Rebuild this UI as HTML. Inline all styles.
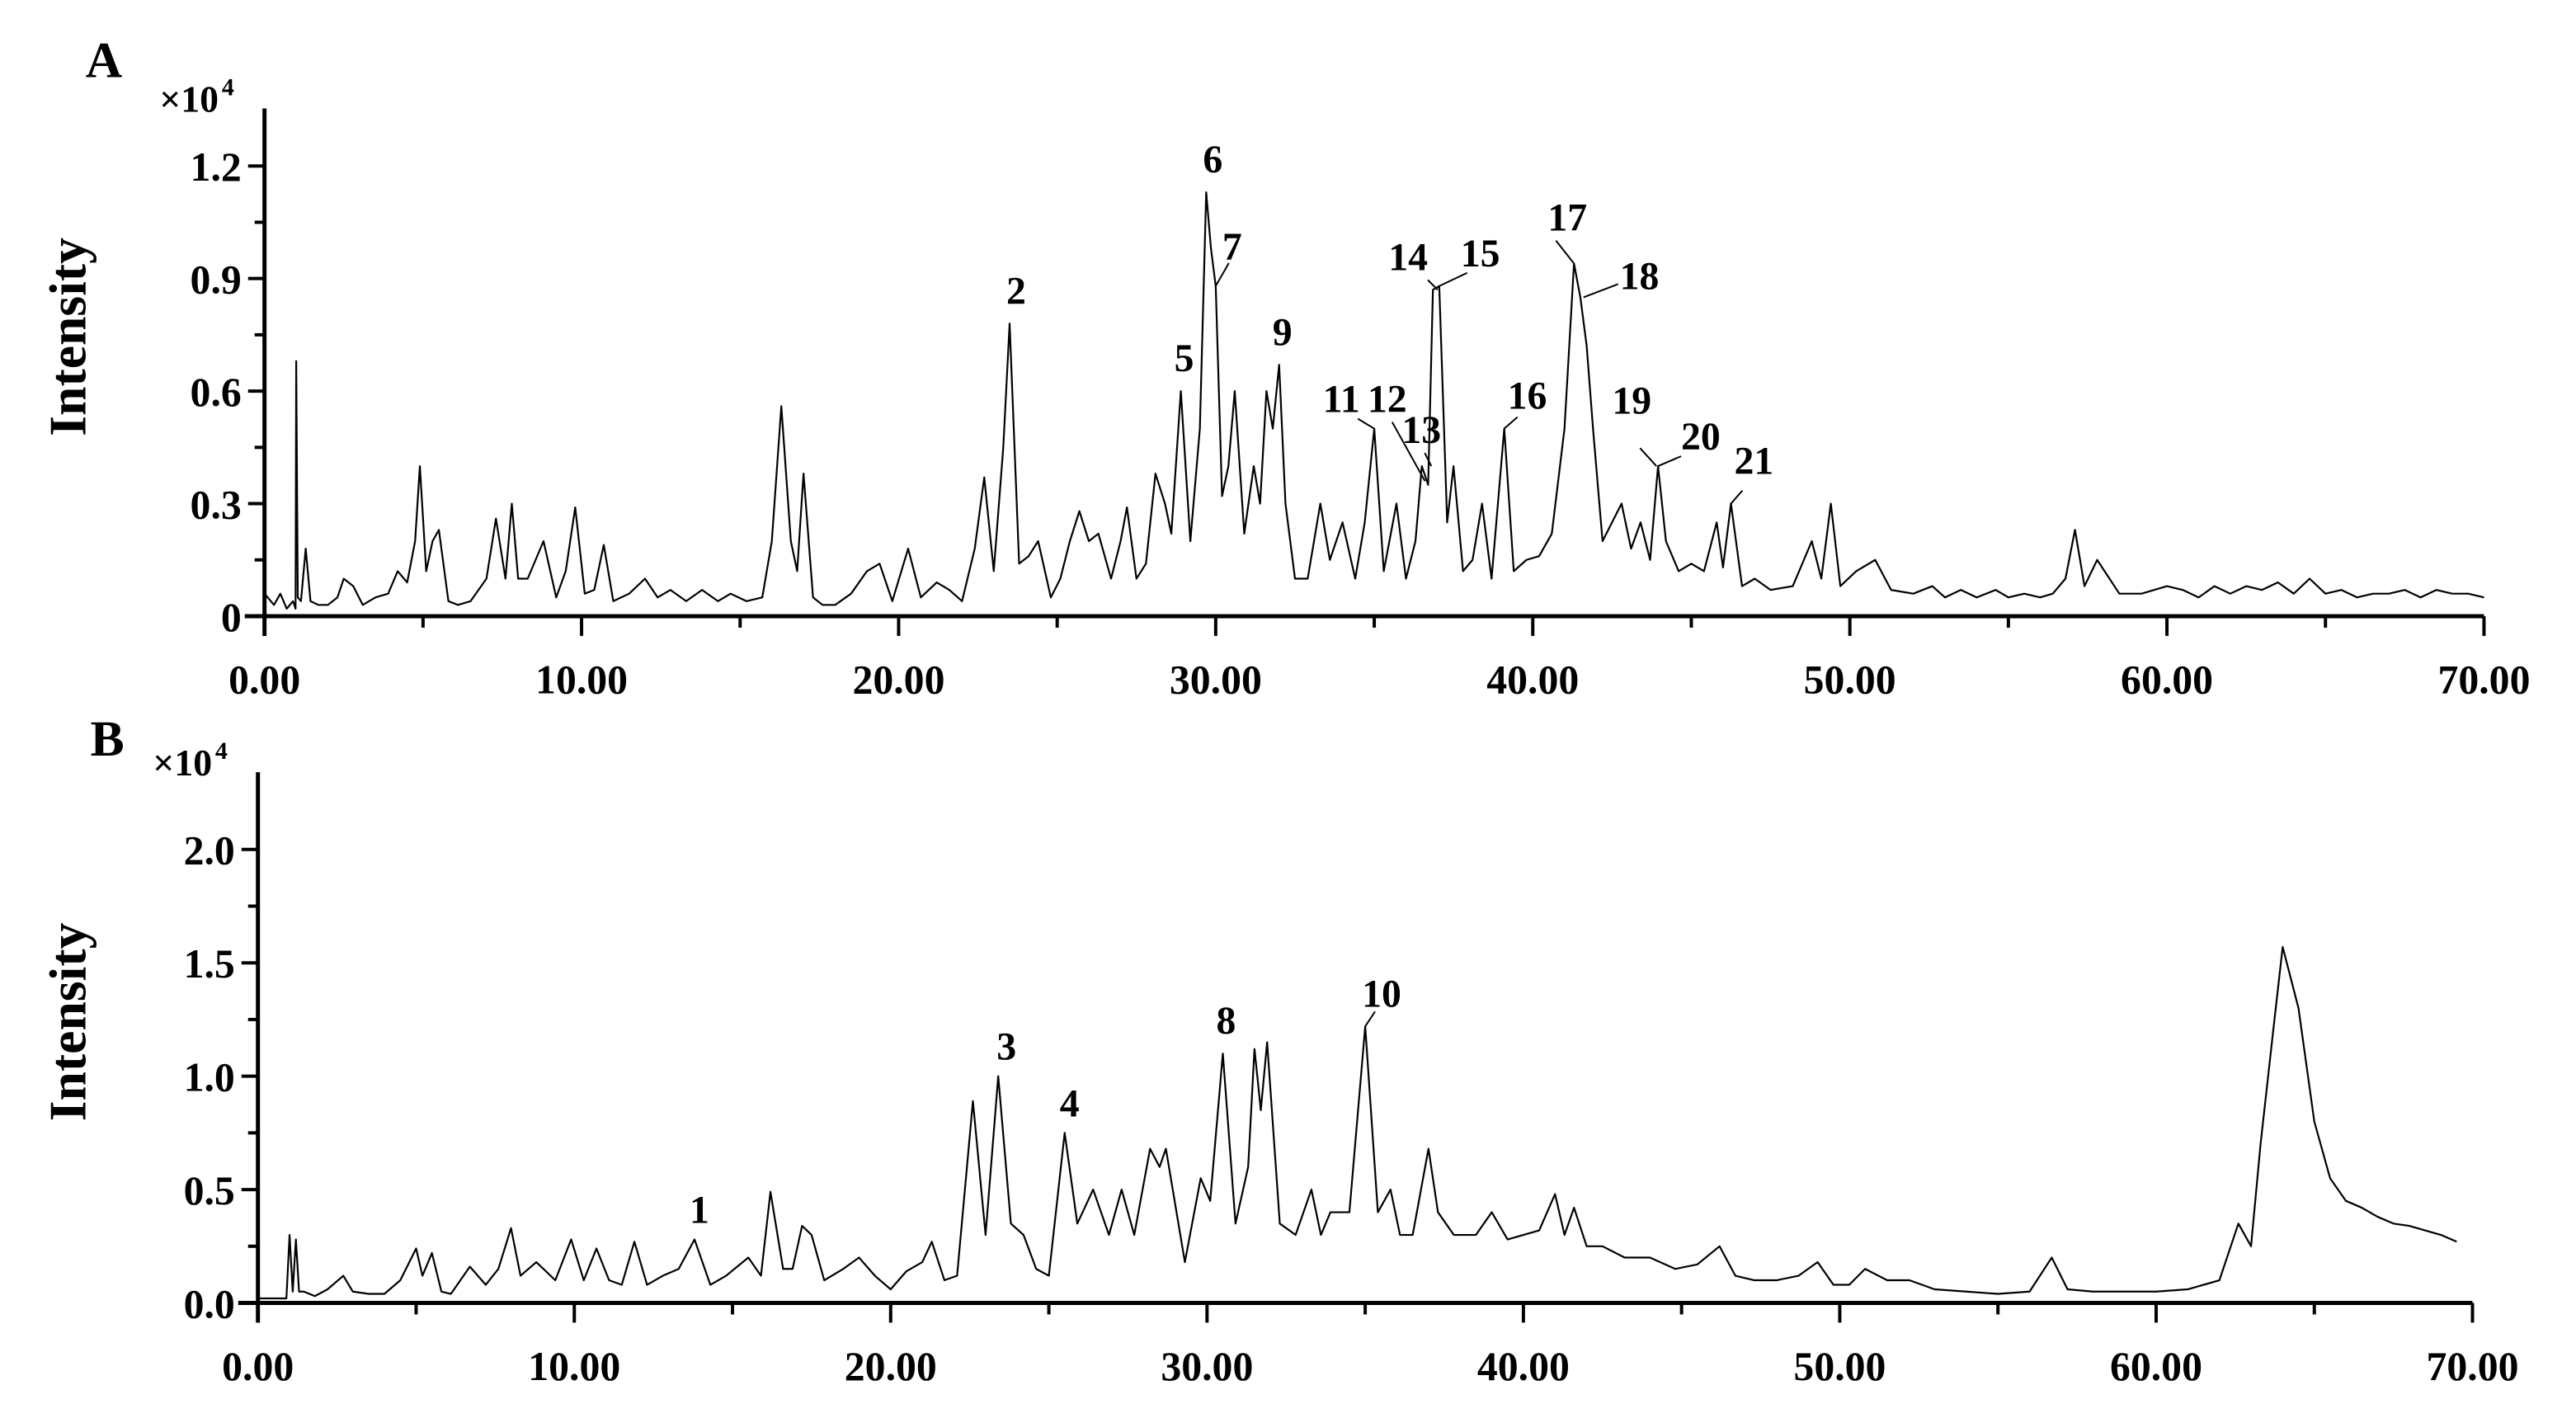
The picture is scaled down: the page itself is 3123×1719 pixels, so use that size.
<!DOCTYPE html>
<html><head><meta charset="utf-8"><style>
html,body{margin:0;padding:0;background:#fff;}
svg{display:block;}
text{font-family:"Liberation Serif",serif;font-weight:bold;fill:#000;}
</style></head><body>
<svg id="chart" xmlns="http://www.w3.org/2000/svg" width="3123" height="1719" viewBox="0 0 1568 863">
<g id="panelA"></g>
<g id="panelB"></g>
</svg>
<script>
// ---------- Data (time in min, intensity in x10^4) ----------
const timesA=[0,0.3,0.5,0.7,0.9,0.98,1.0,1.05,1.15,1.3,1.45,1.7,2.0,2.3,2.5,2.8,3.1,3.5,3.9,4.2,4.5,4.75,4.9,5.1,5.3,5.5,5.8,6.1,6.5,7.0,7.3,7.6,7.8,8.0,8.3,8.8,9.2,9.5,9.8,10.1,10.4,10.7,11.0,11.5,12.0,12.4,12.8,13.3,13.8,14.3,14.7,15.2,15.7,16.0,16.3,16.6,16.8,17.0,17.3,17.6,18.0,18.5,19.0,19.4,19.8,20.3,20.7,21.2,21.6,22.0,22.4,22.7,23.0,23.3,23.5,23.8,24.1,24.4,24.8,25.1,25.4,25.7,26.0,26.3,26.7,27.0,27.2,27.5,27.8,28.1,28.4,28.6,28.9,29.2,29.5,29.7,29.85,30.0,30.2,30.4,30.6,30.9,31.2,31.4,31.6,31.8,32.0,32.2,32.5,32.9,33.3,33.6,34.0,34.4,34.7,35.0,35.3,35.7,36.0,36.3,36.5,36.7,36.85,37.05,37.3,37.5,37.8,38.1,38.4,38.7,39.1,39.4,39.8,40.2,40.6,41.0,41.3,41.5,41.7,41.9,42.2,42.5,42.8,43.1,43.4,43.7,43.95,44.2,44.6,45.0,45.4,45.8,46.0,46.25,46.6,47.0,47.5,48.2,48.8,49.1,49.4,49.7,50.2,50.8,51.3,52,52.6,53,53.5,54,54.6,55,55.5,56,56.4,56.8,57.1,57.4,57.8,58.5,59.2,60,60.5,61,61.5,62,62.5,63,63.5,64,64.5,65,65.5,66,66.5,67,67.5,68,68.5,69,69.5,70];
const intensityA=[0.06,0.03,0.06,0.02,0.04,0.02,0.68,0.05,0.04,0.18,0.04,0.03,0.03,0.05,0.1,0.08,0.03,0.05,0.06,0.12,0.09,0.2,0.40,0.12,0.2,0.23,0.04,0.03,0.04,0.1,0.26,0.1,0.3,0.1,0.1,0.2,0.05,0.12,0.29,0.06,0.07,0.19,0.04,0.06,0.1,0.05,0.07,0.04,0.07,0.04,0.06,0.04,0.05,0.2,0.56,0.2,0.12,0.38,0.05,0.03,0.03,0.06,0.12,0.14,0.04,0.18,0.05,0.09,0.07,0.04,0.18,0.37,0.12,0.45,0.78,0.14,0.16,0.2,0.05,0.1,0.2,0.28,0.2,0.22,0.1,0.2,0.29,0.1,0.14,0.38,0.3,0.22,0.6,0.2,0.5,1.13,0.98,0.88,0.32,0.4,0.6,0.22,0.4,0.3,0.6,0.5,0.67,0.3,0.1,0.1,0.3,0.15,0.25,0.1,0.25,0.5,0.12,0.3,0.1,0.2,0.4,0.35,0.87,0.88,0.25,0.4,0.12,0.15,0.3,0.1,0.5,0.12,0.15,0.16,0.22,0.5,0.94,0.85,0.72,0.5,0.2,0.25,0.3,0.18,0.25,0.15,0.4,0.2,0.12,0.14,0.12,0.25,0.13,0.3,0.08,0.1,0.07,0.08,0.2,0.1,0.3,0.08,0.12,0.15,0.07,0.06,0.08,0.05,0.07,0.05,0.07,0.05,0.06,0.05,0.06,0.1,0.23,0.08,0.15,0.06,0.06,0.08,0.07,0.05,0.08,0.06,0.08,0.07,0.09,0.06,0.1,0.06,0.07,0.05,0.06,0.06,0.07,0.05,0.07,0.06,0.06,0.05,0.06,0.05,0.06];

const timesB=[0,0.5,0.9,1.0,1.1,1.2,1.3,1.45,1.8,2.2,2.7,3.0,3.5,4.0,4.5,5.0,5.2,5.5,5.8,6.1,6.7,7.2,7.6,8.0,8.3,8.8,9.4,9.9,10.3,10.7,11.1,11.5,11.9,12.3,12.8,13.3,13.8,14.3,14.8,15.5,15.9,16.2,16.6,16.9,17.2,17.5,17.9,18.5,19.0,19.5,20.0,20.5,21.0,21.3,21.7,22.1,22.6,23.0,23.4,23.8,24.2,24.6,25.0,25.5,25.9,26.4,26.9,27.3,27.7,28.2,28.5,28.7,29.3,29.8,30.1,30.5,30.9,31.3,31.5,31.7,31.9,32.3,32.8,33.3,33.6,33.9,34.5,35.0,35.4,35.8,36.1,36.5,37.0,37.3,37.8,38.5,39.0,39.5,40.0,40.5,41.0,41.3,41.6,42.0,42.5,43.2,44,44.8,45.5,46.2,46.7,47.3,48,48.7,49.3,49.8,50.3,50.8,51.5,52.2,53,54,55,56,56.7,57.2,58,59,60,61,62,62.6,63.0,63.3,63.7,64.0,64.5,65.0,65.5,66.0,66.5,67.0,67.5,68.0,68.5,69.0,69.5,70.0];
const intensityB=[0.02,0.02,0.02,0.3,0.05,0.28,0.05,0.05,0.03,0.06,0.12,0.05,0.04,0.04,0.1,0.24,0.12,0.22,0.05,0.04,0.16,0.08,0.15,0.33,0.12,0.18,0.1,0.28,0.1,0.24,0.1,0.08,0.27,0.08,0.12,0.15,0.28,0.08,0.12,0.2,0.12,0.49,0.15,0.15,0.34,0.3,0.1,0.15,0.2,0.12,0.06,0.14,0.18,0.27,0.1,0.12,0.89,0.3,1.0,0.35,0.3,0.15,0.12,0.75,0.35,0.5,0.3,0.5,0.3,0.68,0.6,0.68,0.18,0.55,0.45,1.1,0.35,0.6,1.12,0.85,1.15,0.35,0.3,0.5,0.3,0.4,0.4,1.22,0.4,0.5,0.3,0.3,0.68,0.4,0.3,0.3,0.4,0.28,0.3,0.32,0.48,0.3,0.42,0.25,0.25,0.2,0.2,0.15,0.17,0.25,0.12,0.1,0.1,0.12,0.18,0.08,0.08,0.15,0.1,0.1,0.06,0.05,0.04,0.05,0.2,0.06,0.05,0.05,0.05,0.06,0.1,0.35,0.25,0.7,1.2,1.57,1.3,0.8,0.55,0.45,0.42,0.38,0.35,0.34,0.32,0.3,0.27];

const xTickLabels=["0.00","10.00","20.00","30.00","40.00","50.00","60.00","70.00"];
const xTickValues=[0,10,20,30,40,50,60,70];
const yTicksA=[0,0.3,0.6,0.9,1.2];
const yTickLabelsA=["0","0.3","0.6","0.9","1.2"];
const yTicksB=[0,0.5,1.0,1.5,2.0];
const yTickLabelsB=["0.0","0.5","1.0","1.5","2.0"];

// peak labels: [text, time, value, label dx, label dy, leader end dx, leader end dy] (offsets in px from peak; leader null = none)
const peakLabelsA=[["2",23.5,0.78,4,-12,null,null],["5",28.9,0.6,2,-12,null,null],["6",29.7,1.13,4,-12,null,null],["7",30.0,0.88,10,-16,8,-14],["9",32.0,0.67,2,-12,null,null],["11",35.0,0.5,-20,-10,-10,-6],["12",36.6,0.36,-23,-42,-20,-36],["13",36.8,0.4,-6,-14,-4,-8],["14",37.0,0.87,-18,-12,-6,-6],["15",37.05,0.88,25,-12,17,-8],["16",39.1,0.5,14,-12,8,-7],["17",41.3,0.94,-4,-20,-11,-14],["18",41.6,0.85,34,-5,21,-8],["19",43.9,0.4,-15,-32,-10,-11],["20",43.95,0.4,26,-10,14,-6],["21",46.25,0.3,14,-18,7,-8]];
const peakLabelsB=[["1",13.8,0.28,3,-10,null,null],["3",23.4,1.0,5,-10,null,null],["4",25.5,0.75,3,-10,null,null],["8",30.5,1.1,2,-12,null,null],["10",35.0,1.22,10,-12,6,-9]];

const NS="http://www.w3.org/2000/svg";
function mk(parent,tag,attrs,txt){const e=document.createElementNS(NS,tag);for(const k in attrs)e.setAttribute(k,attrs[k]);if(txt!==undefined)e.textContent=txt;parent.appendChild(e);return e;}

function drawPanel(g,cfg){
  const xs=t=>cfg.x0+(t-0)/(70-0)*(cfg.x1-cfg.x0);
  const ys=v=>cfg.y0-v/cfg.vmax*(cfg.y0-cfg.yTop);
  let d="";
  cfg.times.forEach((t,i)=>{d+=(i?"L":"M")+xs(t).toFixed(2)+","+ys(cfg.vals[i]).toFixed(2);});
  const p=mk(g,"path",{d:d,fill:"none",stroke:"#000","stroke-width":"1.1","stroke-linejoin":"round"});
  
  
  const ax=mk(g,"line",{x1:cfg.x0-12,y1:cfg.y0,x2:cfg.x1,y2:cfg.y0,stroke:"#000","stroke-width":"2.5"});
  
  
  const ay=mk(g,"line",{x1:cfg.x0,y1:cfg.y0+12,x2:cfg.x0,y2:cfg.axTop,stroke:"#000","stroke-width":"2.5"});
  
  
  xTickValues.forEach((v,i)=>{
    mk(g,"line",{x1:xs(v),y1:cfg.y0,x2:xs(v),y2:cfg.y0+12,stroke:"#000","stroke-width":"2"});
    if(v<70) mk(g,"line",{x1:xs(v+5),y1:cfg.y0,x2:xs(v+5),y2:cfg.y0+7,stroke:"#000","stroke-width":"2"});
    const t=mk(g,"text",{x:xs(v),y:cfg.y0+47,"font-size":"25","text-anchor":"middle"},xTickLabels[i]);
    
    
  });
  cfg.yt.forEach((v,i)=>{
    mk(g,"line",{x1:cfg.x0-10,y1:ys(v),x2:cfg.x0,y2:ys(v),stroke:"#000","stroke-width":"2"});
    const hv=v+(cfg.yt[1]-cfg.yt[0])/2;
    if(hv<=cfg.vmax*1.08) mk(g,"line",{x1:cfg.x0-6,y1:ys(hv),x2:cfg.x0,y2:ys(hv),stroke:"#000","stroke-width":"2"});
    const t=mk(g,"text",{x:cfg.x0-14,y:ys(v)+9,"font-size":"25","text-anchor":"end"},cfg.ytl[i]);
    
    
  });
  cfg.peaks.forEach(pk=>{
    const px=xs(pk[1]),py=ys(pk[2]);
    if(pk[5]!==null){const l=mk(g,"line",{x1:px,y1:py,x2:px+pk[5],y2:py+pk[6],stroke:"#000","stroke-width":"1"});
      
      }
    const t=mk(g,"text",{x:px+pk[3],y:py+pk[4],"font-size":"24","text-anchor":"middle"},pk[0]);
    
    
  });
  const L=mk(g,"text",{x:cfg.lx,y:cfg.ly,"font-size":"31"},cfg.letter);
  
  
  const m=mk(g,"text",{x:cfg.x0-64,y:cfg.axTop+2,"font-size":"23","font-weight":"normal"},"×10");
  
  
  mk(g,"text",{x:cfg.x0-26,y:cfg.axTop-8,"font-size":"15","font-weight":"normal"},"4");
  const yl=mk(g,"text",{x:0,y:0,"font-size":"32","text-anchor":"middle",transform:"translate(52,"+cfg.ylY+") rotate(-90)"},"Intensity");
  
  
}

drawPanel(document.getElementById("panelA"),{id:"panel-a",x0:161,x1:1512,y0:375,yTop:101,vmax:1.2,axTop:66,times:timesA,vals:intensityA,yt:yTicksA,ytl:yTickLabelsA,peaks:peakLabelsA,letter:"A",lx:52,ly:47,ylY:205});
drawPanel(document.getElementById("panelB"),{id:"panel-b",x0:157,x1:1505,y0:793,yTop:517,vmax:2.0,axTop:470,times:timesB,vals:intensityB,yt:yTicksB,ytl:yTickLabelsB,peaks:peakLabelsB,letter:"B",lx:55,ly:460,ylY:622});
</script>
</body></html>
